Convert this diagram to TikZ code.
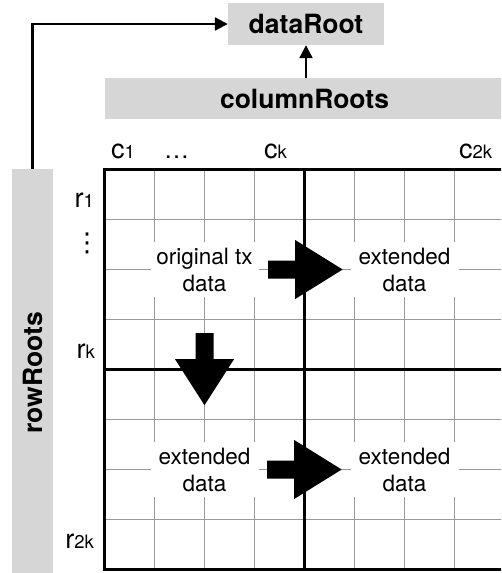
\documentclass[tikz,border=0pt]{standalone}
\usepackage{fontspec}
\setmainfont{TeX Gyre Heros}
\newfontfamily\dejavu{DejaVu Sans}
\usetikzlibrary{arrows.meta,calc}
\definecolor{boxgray}{HTML}{D6D6D6}
\definecolor{gridgray}{HTML}{999999}
\newcommand\glab[2]{{\fontsize{27}{27}\selectfont #1}{\fontsize{18.5}{18.5}\selectfont #2}}
\begin{document}
\begin{tikzpicture}[x=1pt,y=-1pt,
  rootbox/.style={fill=boxgray, inner sep=0pt, font=\fontsize{26.5}{30}\selectfont\bfseries},
  celltext/.style={fill=white, inner sep=0pt, minimum width=108pt, minimum height=55pt, align=center, font=\fontsize{22.5}{27}\selectfont},
  conn/.style={line width=2.2pt, -{Triangle[length=13pt,width=13pt]}},
  fatarrow/.style={fill=black},
  gridthin/.style={gridgray, line width=1.2pt},
  gridthick/.style={black, line width=2.6pt},
  lab/.style={inner sep=0pt}]
\useasboundingbox (0,0) rectangle (501,573);
\clip (0,0) rectangle (501,573);
% grid
\foreach \i in {1,...,7} {
  \draw[gridthin] (104.5+50*\i,169.5) -- (104.5+50*\i,569.5);
  \draw[gridthin] (104.5,169.5+50*\i) -- (504.5,169.5+50*\i);
}
\draw[gridthick] (304.5,169.5) -- (304.5,569.5);
\draw[gridthick] (104.5,369.5) -- (504.5,369.5);
\draw[gridthick] (104.5,169.5) rectangle (504.5,569.5);
% roots
\node[rootbox, minimum width=156pt, minimum height=42pt] (dataRoot) at (306,24) {dataRoot};
\node[rootbox, minimum width=400pt, minimum height=41pt] (columnRoots) at (304.5,98.5) {columnRoots};
\node[rootbox, rotate=90, minimum width=408pt, minimum height=41pt] (rowRoots) at (32.5,373) {rowRoots};
\draw[conn] (rowRoots.east) |- (dataRoot.west);
\draw[conn] (dataRoot.south |- columnRoots.north) -- (dataRoot.south);
% cell texts
\node[celltext] (orig) at (204.5,269.5) {original tx\\data};
\node[celltext] (extR) at (404.5,269.5) {extended\\data};
\node[celltext] (extB) at (204.5,469.5) {extended\\data};
\node[celltext] (extBR) at (404.5,469.5) {extended\\data};
% fat arrows
\fill[fatarrow] ($(orig.east)+(9.5,-9)$) -- ++(27,0) -- ++(0,-20.5) -- ++(47.5,29.5) -- ++(-47.5,29.5) -- ++(0,-20.5) -- ++(-27,0) -- cycle;
\fill[fatarrow] ($(extB.east)+(8.5,-9)$) -- ++(27,0) -- ++(0,-20.5) -- ++(47.5,29.5) -- ++(-47.5,29.5) -- ++(0,-20.5) -- ++(-27,0) -- cycle;
\fill[fatarrow] ($(orig.south)+(-9,36)$) -- ++(0,26) -- ++(-20.5,0) -- ++(29.5,46) -- ++(29.5,-46) -- ++(-20.5,0) -- ++(0,-26) -- cycle;
% column labels
\node[lab, anchor=base west] (c1) at (111,158) {\glab{c}{1}};
\node[lab, anchor=base west, font=\fontsize{25}{25}\selectfont] (cdots) at (164,158) {…};
\node[lab, anchor=base west] (ck) at (264,158) {\glab{c}{k}};
\node[lab, anchor=base west] (c2k) at (459,158) {\glab{c}{2k}};
% row labels
\node[lab, anchor=base east] (r1) at (94,207) {\glab{r}{1}};
\node[lab, font=\dejavu\fontsize{26}{26}\selectfont] (rdots) at (87,243.5) {⋮};
\node[lab, anchor=base east] (rk) at (95,358) {\glab{r}{k}};
\node[lab, anchor=base east] (r2k) at (94,548) {\glab{r}{2k}};
\end{tikzpicture}
\end{document}
